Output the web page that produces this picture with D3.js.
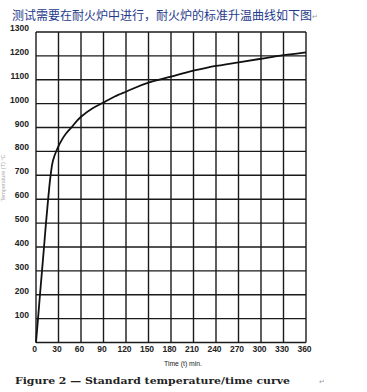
<!DOCTYPE html>
<html>
<head>
<meta charset="utf-8">
<script src="https://cdn.jsdelivr.net/npm/d3@7"></script>
<style>
html,body{margin:0;padding:0;background:#fff;}
svg{display:block;}
</style>
</head>
<body>
<svg id="chart" width="367" height="392"></svg>
<script>
// ---- data ----
const timeMin = [0, 2.7, 5.3, 8, 10.7, 13.3, 16.2, 19.5, 22.5, 27.5, 32, 40, 47, 60, 75, 90, 105, 120, 150, 180, 210, 240, 270, 300, 330, 360];
const tempC   = [0, 100, 200, 300, 400, 500, 600, 700, 760, 805, 835, 875, 900, 945, 980, 1005, 1030, 1050, 1088, 1113, 1138, 1158, 1173, 1188, 1203, 1215];
const xTicks = [0, 30, 60, 90, 120, 150, 180, 210, 240, 270, 300, 330, 360];
const yTicks = [100, 200, 300, 400, 500, 600, 700, 800, 900, 1000, 1100, 1200, 1300];
const titleText = "测试需要在耐火炉中进行，耐火炉的标准升温曲线如下图";
const xLabel = "Time  (t)  min.";
const yLabel = "Temperature (T) °C";
const caption = "Figure 2 — Standard temperature/time curve";

const svg = d3.select("#chart");
const x = d3.scaleLinear().domain([0, 360]).range([36, 306]);
const y = d3.scaleLinear().domain([0, 1300]).range([342.5, 32]);

// title
svg.append("text").attr("x", 12).attr("y", 19.5)
  .attr("font-family", "'Noto Sans CJK SC', sans-serif").attr("font-size", 12)
  .attr("fill", "#1f3b8c").text(titleText);
svg.append("text").attr("x", 312).attr("y", 19).attr("font-family", "'DejaVu Sans', sans-serif")
  .attr("font-size", 7).attr("fill", "#999").text("↵");

// grid
const grid = svg.append("g").attr("stroke", "#1a1a1a").attr("stroke-width", 1.4).attr("fill", "none");
grid.selectAll("line.v").data(xTicks).join("line")
  .attr("x1", d => x(d)).attr("x2", d => x(d)).attr("y1", y(1300)).attr("y2", y(0));
grid.selectAll("line.h").data([0].concat(yTicks)).join("line")
  .attr("class", "h")
  .attr("x1", x(0)).attr("x2", x(360)).attr("y1", d => y(d)).attr("y2", d => y(d));

// curve (temperature rises monotonically, so interpolate along y)
const line = d3.line().x((d, i) => x(timeMin[i])).y(d => y(d)).curve(d3.curveMonotoneY);
svg.append("path").datum(tempC).attr("d", line)
  .attr("fill", "none").attr("stroke", "#111").attr("stroke-width", 1.8)
  .attr("stroke-linejoin", "round");

// y tick labels
svg.append("g").selectAll("text").data(yTicks).join("text")
  .attr("x", 29).attr("y", d => y(d) - 1)
  .attr("text-anchor", "end")
  .attr("font-family", "'Liberation Sans', Arial, sans-serif").attr("font-weight", "bold")
  .attr("font-size", 8.5).attr("fill", "#222").text(d => d);

// x tick labels
svg.append("g").selectAll("text").data(xTicks).join("text")
  .attr("x", d => x(d) - 1.5).attr("y", 351.5)
  .attr("text-anchor", "middle")
  .attr("font-family", "'Liberation Sans', Arial, sans-serif").attr("font-weight", "bold")
  .attr("font-size", 8.5).attr("fill", "#222").text(d => d);

// x axis label
svg.append("text").attr("x", 164).attr("y", 365.5)
  .attr("font-family", "'Liberation Sans', Arial, sans-serif")
  .attr("font-size", 6.8).attr("fill", "#222").text(xLabel);

// y axis label (faint, at the very left edge)
svg.append("text").attr("transform", "translate(5,178) rotate(-90)")
  .attr("text-anchor", "middle")
  .attr("font-family", "'Liberation Sans', Arial, sans-serif")
  .attr("font-size", 5.5).attr("fill", "#aaa").text(yLabel);

// caption
svg.append("text").attr("x", 15).attr("y", 383.5)
  .attr("font-family", "'DejaVu Serif', serif").attr("font-weight", "bold")
  .attr("font-size", 9.8).attr("fill", "#222")
  .attr("textLength", 275).attr("lengthAdjust", "spacingAndGlyphs").text(caption);
svg.append("text").attr("x", 319).attr("y", 384).attr("font-family", "'DejaVu Sans', sans-serif")
  .attr("font-size", 7).attr("fill", "#999").text("↵");
</script>
</body>
</html>
